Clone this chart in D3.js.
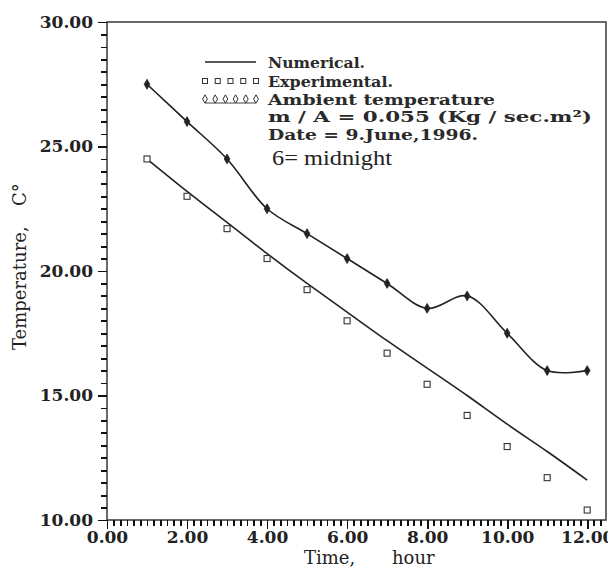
<!DOCTYPE html>
<html>
<head>
<meta charset="utf-8">
<script src="https://cdn.jsdelivr.net/npm/d3@7"></script>
<style>
  html, body { margin: 0; padding: 0; background: #fff; }
  svg text { font-family: "DejaVu Serif", serif; fill: #222; }
  .legend text { font-size: 15px; font-weight: bold; fill: #2a2a2a; }
</style>
</head>
<body>
<div class="chart"></div>
<script>
// Data
const hours = [1, 2, 3, 4, 5, 6, 7, 8, 9, 10, 11, 12];
const ambient = [27.5, 26.0, 24.5, 22.5, 21.5, 20.5, 19.5, 18.5, 19.0, 17.5, 16.0, 16.0];
const experimental = [24.5, 23.0, 21.7, 20.5, 19.25, 18.0, 16.7, 15.45, 14.2, 12.95, 11.7, 10.4];
const numerical = [24.5, 23.2, 21.95, 20.7, 19.5, 18.35, 17.2, 16.1, 15.0, 13.85, 12.75, 11.6];

const xTicks = [0, 2, 4, 6, 8, 10, 12];
const yTicks = [10, 15, 20, 25, 30];
const legendLabels = ["Numerical.", "Experimental.", "Ambient temperature"];
const noteLines = ["m / A = 0.055 (Kg / sec.m\u00b2)", "Date = 9.June,1996."];

// Dimensions
const W = 608, H = 572;
const margin = {left: 107, right: 606, top: 22, bottom: 520};

// Scales
const xScale = d3.scaleLinear().domain([0, 12.47]).range([margin.left, margin.right]);
const yScale = d3.scaleLinear().domain([10, 30]).range([margin.bottom, margin.top]);

const svg = d3.select(".chart").append("svg")
    .attr("width", W)
    .attr("height", H);

// Frame
svg.append("rect")
    .attr("x", margin.left).attr("y", margin.top)
    .attr("width", margin.right - margin.left).attr("height", margin.bottom - margin.top)
    .attr("fill", "none")
    .attr("stroke", "#444")
    .attr("stroke-width", 1.6);

// Axes (ticks through d3.axis, majors longer than minors)
const xMinor = d3.range(0, 12.45, 1 / 6).filter(v => Math.abs(v / 2 - Math.round(v / 2)) > 1e-6);
const yMinor = d3.range(10, 30.01, 0.5).filter(v => v % 5 !== 0);
const fmt = d3.format(".2f");

function styleAxis(g) {
  g.select(".domain").remove();
  g.selectAll(".tick line")
      .attr("stroke", "#111")
      .attr("stroke-width", 1.8)
      .attr("shape-rendering", "crispEdges");
  g.selectAll(".tick text")
      .attr("fill", "#3a3a3a")
      .style("font-family", "DejaVu Serif, serif")
      .style("font-size", "17px")
      .style("font-weight", "bold");
}

svg.append("g")
    .attr("transform", "translate(0," + margin.bottom + ")")
    .call(d3.axisBottom(xScale).tickValues(xMinor).tickSize(6).tickFormat(() => ""))
    .call(styleAxis);
svg.append("g")
    .attr("transform", "translate(0," + margin.bottom + ")")
    .call(d3.axisBottom(xScale).tickValues(xTicks).tickSize(9).tickPadding(2).tickFormat(fmt))
    .call(styleAxis);

svg.append("g")
    .attr("transform", "translate(" + margin.left + ",0)")
    .call(d3.axisLeft(yScale).tickValues(yMinor).tickSize(6).tickFormat(() => ""))
    .call(styleAxis);
svg.append("g")
    .attr("transform", "translate(" + margin.left + ",0)")
    .call(d3.axisLeft(yScale).tickValues(yTicks).tickSize(9).tickPadding(5).tickFormat(fmt))
    .call(styleAxis);

// Axis titles
svg.append("text")
    .attr("x", 304).attr("y", 564)
    .style("font-size", "18px")
    .text("Time,");
svg.append("text")
    .attr("x", 392).attr("y", 564)
    .style("font-size", "18px")
    .text("hour");

svg.append("text")
    .attr("transform", "translate(26,350) rotate(-90)")
    .style("font-size", "18px")
    .text("Temperature,");
svg.append("text")
    .attr("transform", "translate(26,206) rotate(-90)")
    .style("font-size", "18px")
    .text("C\u00b0");

// Lines
const numLine = d3.line()
    .x((d, i) => xScale(hours[i]))
    .y(d => yScale(d))
    .curve(d3.curveNatural);
const ambLine = d3.line()
    .x((d, i) => xScale(hours[i]))
    .y(d => yScale(d))
    .curve(d3.curveCatmullRom.alpha(0.5));

svg.append("path")
    .attr("d", numLine(numerical))
    .attr("fill", "none")
    .attr("stroke", "#222")
    .attr("stroke-width", 1.6);

svg.append("path")
    .attr("d", ambLine(ambient))
    .attr("fill", "none")
    .attr("stroke", "#222")
    .attr("stroke-width", 1.6);

const diamond = d3.symbol().type(d3.symbolDiamond).size(28);

svg.selectAll(".amb")
    .data(ambient)
  .enter().append("path")
    .attr("class", "amb")
    .attr("transform", (d, i) => "translate(" + [xScale(hours[i]), yScale(d)] + ")")
    .attr("d", diamond)
    .attr("fill", "#222")
    .attr("stroke", "#222")
    .attr("stroke-width", 0.8);

svg.selectAll(".exp")
    .data(experimental)
  .enter().append("rect")
    .attr("class", "exp")
    .attr("x", (d, i) => xScale(hours[i]) - 3)
    .attr("y", d => yScale(d) - 3)
    .attr("width", 6)
    .attr("height", 6)
    .attr("fill", "#fff")
    .attr("stroke", "#333")
    .attr("stroke-width", 1.1);

// Legend
const legend = svg.append("g").attr("class", "legend");
const lx0 = 205, lx1 = 256, tx = 268;
const rowY = [62, 81, 99];

legend.append("line")
    .attr("x1", lx0).attr("x2", lx1)
    .attr("y1", rowY[0]).attr("y2", rowY[0])
    .attr("stroke", "#222").attr("stroke-width", 1.6);

d3.range(5).forEach(k => {
  legend.append("rect")
      .attr("x", lx0 + k * (lx1 - lx0) / 4 - 2.5)
      .attr("y", rowY[1] - 2.5)
      .attr("width", 5).attr("height", 5)
      .attr("fill", "#fff").attr("stroke", "#333").attr("stroke-width", 1);
});

legend.append("line")
    .attr("x1", lx0).attr("x2", lx1)
    .attr("y1", rowY[2] + 4).attr("y2", rowY[2] + 4)
    .attr("stroke", "#444").attr("stroke-width", 1.2);
d3.range(6).forEach(k => {
  legend.append("path")
      .attr("transform", "translate(" + [lx0 + k * (lx1 - lx0) / 5, rowY[2]] + ")")
      .attr("d", d3.symbol().type(d3.symbolDiamond).size(20))
      .attr("fill", "#fff").attr("stroke", "#333").attr("stroke-width", 1);
});

const textWidths = [97, 125, 227];
legendLabels.forEach((t, i) => {
  legend.append("text")
      .attr("x", tx).attr("y", rowY[i] + 6)
      .attr("textLength", textWidths[i])
      .attr("lengthAdjust", "spacingAndGlyphs")
      .text(t);
});

const noteWidths = [324, 210];
noteLines.forEach((t, i) => {
  legend.append("text")
      .attr("x", tx).attr("y", 122 + i * 18)
      .attr("textLength", noteWidths[i])
      .attr("lengthAdjust", "spacingAndGlyphs")
      .text(t);
});

svg.append("text")
    .attr("x", 272).attr("y", 165)
    .attr("textLength", 120)
    .attr("lengthAdjust", "spacingAndGlyphs")
    .style("font-size", "22px")
    .style("font-family", "Liberation Serif, serif")
    .text("6= midnight");
</script>
</body>
</html>
